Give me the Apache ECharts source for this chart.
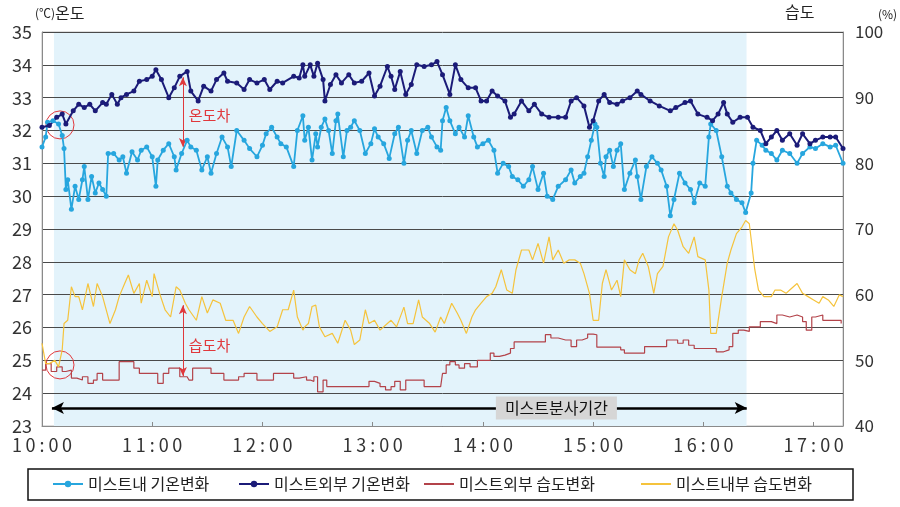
<!DOCTYPE html>
<html><head><meta charset="utf-8">
<script src="https://cdn.jsdelivr.net/npm/echarts@6/dist/echarts.min.js"></script>
<style>html,body{margin:0;padding:0;background:#fff}#c{width:900px;height:507px}</style>
</head><body><div id="c"></div>
<script>
// time = minutes after 10:00
const xTickLabels = ['1\u20090 : 0\u20090','1\u20091 : 0\u20090','1\u20092 : 0\u20090','1\u20093 : 0\u20090','1\u20094 : 0\u20090','1\u20095 : 0\u20090','1\u20096 : 0\u20090','1\u20097 : 0\u20090'];
const seriesNames = ['미스트내 기온변화','미스트외부 기온변화','미스트외부 습도변화','미스트내부 습도변화'];

const insideTemp = [[0,31.5],[2,31.8],[3,32.25],[6,32.3],[9,32.2],[11,31.85],[12,31.45],[13,30.2],[14,30.5],[16,29.6],[18,30.3],[20,29.9],[22,30.5],[23,30.9],[25,29.9],[27,30.6],[29,30.1],[31,30.4],[33,30.2],[35,30.0],[36,31.3],[39,31.3],[42,31.1],[44,31.2],[46,30.7],[49,31.35],[52,31.1],[54,31.4],[57,31.5],[60,31.2],[62,30.3],[63,31.1],[66,31.4],[69,31.6],[72,31.2],[73,30.8],[76,31.3],[79,31.7],[81,31.5],[84,31.4],[87,30.8],[90,31.2],[92,30.7],[95,31.3],[98,31.8],[101,31.5],[103,30.9],[106,32.0],[110,31.7],[113,31.45],[117,31.2],[120,31.55],[122,31.9],[125,32.1],[128,31.8],[130,31.6],[133,31.5],[137,30.9],[139,32.0],[142,32.45],[143,31.7],[145,32.1],[147,31.1],[149,31.9],[150,31.5],[152,32.1],[154,32.35],[156,32.0],[158,31.3],[160,32.3],[161,32.5],[164,31.2],[166,32.0],[168,32.1],[170,32.3],[173,32.0],[176,31.3],[179,31.6],[181,32.05],[183,31.8],[186,31.6],[189,31.15],[192,31.9],[194,32.1],[197,31.0],[199,31.7],[201,32.0],[204,31.3],[207,32.0],[210,32.1],[212,31.8],[215,31.5],[217,31.4],[218,32.3],[220,32.7],[222,32.3],[225,31.9],[227,32.1],[230,31.8],[232,32.45],[235,31.8],[237,31.5],[240,31.6],[243,31.7],[246,31.4],[248,30.7],[251,31.0],[254,30.9],[256,30.6],[259,30.5],[262,30.3],[265,30.5],[267,30.9],[270,30.2],[273,30.7],[275,30.0],[278,29.9],[281,30.3],[285,30.5],[288,30.8],[290,30.4],[293,30.6],[295,30.7],[297,31.2],[299,31.7],[301,32.2],[302,32.1],[304,31.0],[306,30.6],[307,31.2],[309,31.4],[311,30.9],[313,31.4],[315,31.6],[317,30.2],[320,30.7],[323,31.1],[324,30.6],[326,29.9],[329,30.9],[332,31.2],[335,31.0],[337,30.8],[340,30.3],[342,29.4],[344,29.9],[347,30.7],[350,30.4],[353,30.2],[355,29.8],[358,30.4],[361,30.3],[363,31.8],[364,32.2],[367,32.0],[370,31.2],[373,30.3],[375,30.1],[378,29.9],[381,29.8],[383,29.5],[386,30.1],[387,31.0],[389,31.7],[392,31.55],[394,31.4],[397,31.3],[400,31.1],[403,31.4],[407,31.3],[411,31.0],[414,31.3],[418,31.5],[421,31.45],[425,31.6],[429,31.5],[432,31.55],[436,31.0]];

const outsideTemp = [[0,32.1],[4,32.15],[8,32.4],[11,32.5],[13,32.2],[17,32.6],[20,32.8],[23,32.7],[26,32.8],[29,32.6],[33,32.85],[35,32.8],[38,33.1],[41,32.8],[43,33.0],[46,33.1],[50,33.2],[53,33.5],[57,33.55],[60,33.65],[62,33.85],[65,33.55],[69,33.0],[72,33.3],[75,33.65],[79,33.8],[81,33.2],[85,32.9],[88,33.35],[92,33.2],[95,33.55],[99,33.75],[101,33.5],[106,33.45],[110,33.25],[113,33.55],[117,33.45],[121,33.55],[124,33.25],[128,33.5],[131,33.45],[137,33.65],[140,33.6],[142,34.0],[143,33.65],[146,34.0],[148,33.65],[150,34.05],[153,33.55],[154,32.9],[157,33.4],[160,33.7],[163,33.45],[167,33.7],[170,33.45],[174,33.5],[178,33.75],[181,33.05],[184,33.35],[188,33.95],[190,33.65],[192,33.25],[195,33.8],[198,33.1],[201,33.4],[204,34.0],[208,33.95],[212,34.0],[215,34.1],[218,33.7],[222,33.1],[225,34.0],[228,33.55],[232,33.3],[236,33.3],[239,32.9],[242,32.9],[245,33.2],[248,33.05],[252,32.9],[255,32.4],[257,32.5],[261,32.9],[265,32.6],[268,32.8],[272,32.5],[276,32.4],[281,32.4],[285,32.4],[288,32.9],[291,33.0],[295,32.75],[298,32.1],[300,32.3],[303,32.9],[306,33.1],[309,32.85],[313,32.8],[316,32.9],[320,33.0],[324,33.2],[326,33.1],[331,32.9],[336,32.75],[342,32.6],[345,32.7],[350,32.85],[353,32.9],[357,32.5],[362,32.4],[365,32.3],[368,32.5],[371,32.85],[373,32.5],[376,32.25],[380,32.4],[384,32.4],[387,32.1],[391,32.0],[394,31.6],[397,31.8],[400,32.0],[403,31.7],[407,31.9],[411,31.55],[414,31.9],[418,31.6],[421,31.7],[425,31.8],[429,31.8],[432,31.8],[436,31.45]];

const outsideHum = [[0,48.5],[2,49.5],[5,48.3],[8,49.0],[11,48.3],[13,48.5],[16,47.3],[19,47.0],[22,47.5],[25,46.5],[28,47.0],[30,48.0],[33,47.0],[40,47.0],[42,49.8],[47,49.8],[50,48.8],[53,48.0],[60,48.0],[63,46.5],[66,48.0],[69,48.8],[72,48.8],[75,47.5],[79,47.5],[80,47.0],[82,48.8],[88,48.8],[92,48.0],[95,48.0],[99,47.0],[103,47.0],[107,47.5],[110,48.0],[113,48.0],[117,47.0],[122,47.0],[126,48.0],[133,48.0],[137,47.3],[140,47.5],[144,47.0],[146,46.8],[148,47.5],[150,45.2],[153,47.0],[155,46.0],[176,46.0],[178,46.8],[181,46.5],[184,46.0],[187,45.5],[190,46.0],[192,46.8],[195,45.5],[198,47.0],[205,47.0],[208,46.0],[217,46.0],[218,48.0],[220,49.3],[222,49.8],[225,49.3],[227,48.8],[230,49.5],[233,49.0],[237,50.0],[241,50.0],[244,51.1],[246,50.6],[249,50.8],[252,51.1],[255,51.8],[257,52.8],[270,52.8],[274,53.9],[277,53.4],[281,53.1],[285,53.1],[288,52.1],[291,53.1],[294,53.4],[297,54.0],[300,53.9],[302,52.0],[311,52.0],[315,51.6],[317,51.1],[326,51.1],[328,52.1],[338,52.1],[340,53.1],[344,53.1],[346,52.6],[349,53.1],[352,52.3],[355,51.8],[364,51.8],[367,51.3],[371,51.6],[374,52.1],[376,54.1],[379,54.6],[382,54.4],[385,55.1],[389,55.1],[391,55.9],[397,55.6],[400,56.9],[403,56.6],[407,56.9],[411,56.6],[414,55.9],[416,54.6],[419,56.6],[421,56.9],[425,56.1],[432,56.1],[435,55.6]];

const insideHum = [[0,52.6],[2,49.5],[4,49.5],[7,50.0],[9,49.0],[11,51.6],[12,55.6],[14,56.1],[16,61.2],[18,59.7],[20,59.7],[22,57.7],[25,61.7],[28,58.2],[30,61.7],[33,59.7],[37,55.6],[40,57.7],[42,59.7],[45,61.7],[47,63.0],[50,60.2],[53,61.7],[54,58.7],[57,62.2],[60,59.7],[61,63.2],[64,60.2],[67,57.7],[70,56.6],[73,61.2],[75,60.7],[78,58.7],[80,57.7],[84,56.1],[87,59.7],[90,57.2],[93,59.2],[97,58.7],[100,56.1],[104,56.1],[107,54.1],[110,56.6],[113,58.2],[117,56.6],[120,55.6],[124,54.4],[128,55.1],[131,57.7],[134,57.7],[137,60.7],[139,56.6],[142,54.6],[143,55.1],[145,55.6],[147,58.2],[149,58.4],[151,55.1],[154,53.6],[158,54.1],[161,52.6],[165,56.1],[168,54.6],[170,52.4],[173,53.1],[176,57.7],[178,55.6],[181,56.1],[184,54.6],[188,55.6],[190,56.1],[193,55.1],[197,58.1],[199,55.6],[202,55.6],[205,59.2],[207,56.6],[211,55.6],[214,54.3],[217,56.6],[219,55.6],[223,58.7],[226,57.2],[228,56.1],[231,54.1],[234,56.6],[236,57.7],[239,58.7],[242,59.7],[245,60.2],[247,61.2],[250,63.8],[253,60.7],[256,60.2],[258,63.8],[261,66.8],[265,66.8],[267,65.3],[270,67.8],[273,64.8],[276,68.8],[278,65.3],[281,66.8],[284,64.8],[287,65.3],[290,65.3],[293,64.8],[295,63.2],[298,60.2],[300,56.1],[303,56.1],[305,61.7],[307,63.8],[310,60.7],[313,62.2],[315,59.7],[317,65.3],[320,63.8],[323,63.2],[325,65.3],[327,66.3],[330,64.3],[333,60.2],[335,63.2],[338,64.3],[341,68.8],[344,70.8],[346,69.8],[349,67.3],[352,66.3],[355,68.8],[357,65.8],[361,65.3],[363,60.7],[364,54.1],[367,54.1],[370,59.7],[373,64.8],[375,66.8],[378,69.3],[381,70.3],[383,71.3],[385,70.8],[388,63.8],[390,60.7],[393,59.7],[397,59.7],[399,60.7],[402,60.7],[405,60.2],[407,60.7],[411,61.7],[414,60.2],[417,59.7],[420,59.2],[423,58.7],[425,59.7],[428,59.2],[431,58.2],[434,60.0],[436,59.7]];

// annotation anchors (data units)
const mistPeriod = [6.5, 383.5];
const FONT = '"Noto Sans CJK KR", "Liberation Sans", sans-serif';
const RED = '#e0383c';

const chart = echarts.init(document.getElementById('c'), null, {renderer: 'canvas'});
const lineCommon = {type: 'line', z: 5, animation: false};

const option = {
  animation: false,
  textStyle: {fontFamily: FONT},
  grid: {left: 42, right: 57, top: 32, bottom: 81, show: true, borderColor: '#bdbdbd', borderWidth: 1, backgroundColor: 'transparent'},
  xAxis: {
    type: 'value', min: 0, max: 436, interval: 60, z: 3,
    axisLine: {show: true, lineStyle: {color: '#8a8a8a', width: 1}},
    axisTick: {show: true, inside: true, length: 4, lineStyle: {color: '#8a8a8a'}},
    splitLine: {show: false},
    axisLabel: {show: true, showMaxLabel: false, margin: 10, fontSize: 18, color: '#333', fontFamily: FONT,
      formatter: v => xTickLabels[Math.round(v / 60)] || ''}
  },
  yAxis: [
    {type: 'value', min: 23, max: 35, interval: 1, z: 3,
     axisLine: {show: true, lineStyle: {color: '#8a8a8a'}}, axisTick: {show: false},
     splitLine: {show: true, lineStyle: {color: '#4a4a4a', width: 1}},
     axisLabel: {fontSize: 18, color: '#333', margin: 10, fontFamily: FONT}},
    {type: 'value', min: 40, max: 100, interval: 10, position: 'right', z: 3,
     axisLine: {show: true, lineStyle: {color: '#8a8a8a'}}, axisTick: {show: false},
     splitLine: {show: false},
     axisLabel: {fontSize: 17, color: '#333', margin: 12, fontFamily: FONT}}
  ],
  legend: seriesNames.map((n, i) => ({
    data: [n], left: [52, 238, 423, 640][i], top: 476, itemWidth: 30, itemHeight: 8, itemGap: 0,
    itemStyle: i >= 2 ? {opacity: 0} : {},
    textStyle: {fontSize: 16, color: '#222', fontFamily: FONT}, padding: 0
  })),
  graphic: [
    {type: 'rect', shape: {x: 28, y: 469, width: 825, height: 31}, style: {fill: 'none', stroke: '#111', lineWidth: 1.5}, z: 10},
    {type: 'text', left: 35, top: 5, style: {text: '{a|(℃)}{b|온도}', rich: {a: {fontSize: 12, fontFamily: FONT, fill: '#222'}, b: {fontSize: 16, fontFamily: FONT, fill: '#222'}}}},
    {type: 'text', left: 785, top: 4, style: {text: '습도', fontSize: 16, fontFamily: FONT, fill: '#222'}},
    {type: 'text', left: 878, top: 8, style: {text: '(%)', fontSize: 12, fontFamily: FONT, fill: '#222'}}
  ],
  series: [
    {name: '_shade', type: 'line', data: [], z: 1, silent: true,
     markArea: {silent: true, itemStyle: {color: '#e3f3fb'}, data: [[{xAxis: mistPeriod[0]}, {xAxis: mistPeriod[1]}]]}},
    Object.assign({}, lineCommon, {
      name: seriesNames[0], data: insideTemp, yAxisIndex: 0, color: '#27a6de',
      symbol: 'circle', symbolSize: 5, showSymbol: true, lineStyle: {width: 1.8, color: '#27a6de'},
      markPoint: {silent: true, data: [
        {coord: [9.8, 32.17], symbol: 'circle', symbolSize: 28, itemStyle: {color: 'rgba(0,0,0,0)', borderColor: RED, borderWidth: 1}, label: {show: false}},
        {coord: [78, 32.47], symbol: 'circle', symbolSize: 1, itemStyle: {color: 'rgba(0,0,0,0)'}, label: {show: true, position: 'right', distance: 3, formatter: '온도차', color: RED, fontSize: 15, fontFamily: FONT}}
      ]},
      markLine: {silent: true, symbol: ['arrow', 'arrow'], symbolSize: [6, 9], label: {show: false},
        lineStyle: {color: RED, width: 1, type: 'solid'},
        data: [[{coord: [76.7, 33.62]}, {coord: [76.7, 31.5]}]]}
    }),
    Object.assign({}, lineCommon, {
      name: seriesNames[1], data: outsideTemp, yAxisIndex: 0, color: '#1b1b78',
      symbol: 'circle', symbolSize: 5, showSymbol: true, lineStyle: {width: 2, color: '#1b1b78'},
      markLine: {silent: true, symbol: ['arrow', 'arrow'], symbolSize: [9, 12], label: {show: false},
        lineStyle: {color: '#000', width: 2.5, type: 'solid'},
        data: [[{coord: [5.4, 23.55]}, {coord: [383.6, 23.55]}]]},
      markPoint: {silent: true, data: [
        {coord: [280, 23.55], symbol: 'circle', symbolSize: 1, itemStyle: {color: 'rgba(0,0,0,0)'},
         label: {show: true, position: 'inside', formatter: '미스트분사기간', color: '#111', fontSize: 16, fontFamily: FONT, backgroundColor: '#d6d6d6', padding: [4, 9, 3, 9]}}
      ]}
    }),
    Object.assign({}, lineCommon, {
      name: seriesNames[2], data: outsideHum, yAxisIndex: 1, color: '#b3434a',
      step: 'end', showSymbol: false, symbol: 'none', lineStyle: {width: 1.2, color: '#b3434a'},
      markPoint: {silent: true, data: [
        {coord: [9.8, 49.3], symbol: 'circle', symbolSize: 28, itemStyle: {color: 'rgba(0,0,0,0)', borderColor: RED, borderWidth: 1}, label: {show: false}},
        {coord: [78, 52.3], symbol: 'circle', symbolSize: 1, itemStyle: {color: 'rgba(0,0,0,0)'}, label: {show: true, position: 'right', distance: 3, formatter: '습도차', color: RED, fontSize: 15, fontFamily: FONT}}
      ]},
      markLine: {silent: true, symbol: ['arrow', 'arrow'], symbolSize: [6, 9], label: {show: false},
        lineStyle: {color: RED, width: 1, type: 'solid'},
        data: [[{coord: [76.7, 58.4]}, {coord: [76.7, 47.6]}]]}
    }),
    Object.assign({}, lineCommon, {
      name: seriesNames[3], data: insideHum, yAxisIndex: 1, color: '#f5c33c',
      showSymbol: false, symbol: 'none', lineStyle: {width: 1.2, color: '#f5c33c'}
    })
  ]
};
chart.setOption(option);
</script>
</body></html>
